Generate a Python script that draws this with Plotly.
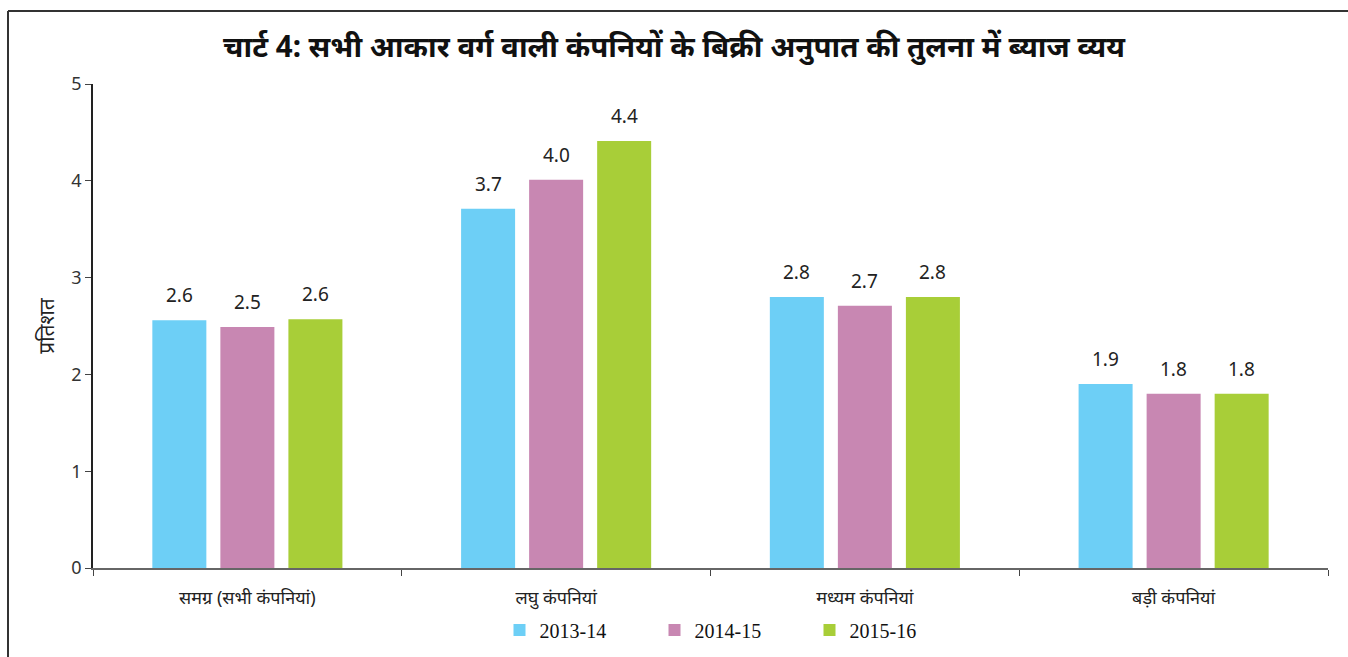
import plotly.graph_objects as go

categories = ["समग्र (सभी कंपनियां)", "लघु कंपनियां", "मध्यम कंपनियां", "बड़ी कंपनियां"]
series_names = ["2013-14", "2014-15", "2015-16"]
values_2013_14 = [2.56, 3.71, 2.80, 1.90]
values_2014_15 = [2.49, 4.01, 2.71, 1.80]
values_2015_16 = [2.57, 4.41, 2.80, 1.80]
colors = ["#6DCFF6", "#C887B2", "#A8CE38"]
y_ticks = [0, 1, 2, 3, 4, 5]

title_text = "चार्ट 4: सभी आकार वर्ग वाली कंपनियों के बिक्री अनुपात की तुलना में ब्याज व्यय"
y_title = "प्रतिशत"

W, H = 1348, 657
L, R, T, B = 93, 20, 84, 89
pw, ph = W - L - R, H - T - B
BARGAP, BARGROUPGAP = 0.339, 0.206
slot_px = pw / len(categories) * (1 - BARGAP) / len(series_names)

def px(x):
    return (x - L) / pw

def py(y):
    return (H - B - y) / ph

fig = go.Figure()
annotations = []
all_series = [values_2013_14, values_2014_15, values_2015_16]
for i, (name, vals, col) in enumerate(zip(series_names, all_series, colors)):
    fig.add_trace(go.Bar(
        x=categories, y=vals, name=name,
        marker=dict(color=col, line=dict(width=0)),
    ))
    for cat, v in zip(categories, vals):
        annotations.append(dict(
            x=cat, y=v, xref="x", yref="y", text=f"{v:.1f}", showarrow=False,
            xanchor="center", yanchor="bottom", xshift=(i - 1) * slot_px, yshift=10,
            font=dict(family="Noto Sans, sans-serif", size=19, color="#222"),
        ))

fig.update_layout(
    width=W, height=H,
    margin=dict(l=L, r=R, t=T, b=B, autoexpand=False),
    paper_bgcolor="white", plot_bgcolor="white",
    barmode="group", bargap=BARGAP, bargroupgap=BARGROUPGAP,
    title=dict(text="<b>" + title_text + "</b>", x=0.5, xanchor="center", y=1 - 47 / H, yanchor="middle",
               font=dict(family="Noto Sans, sans-serif", size=29.5, color="#111")),
    font=dict(family="Noto Sans, sans-serif", color="#222"),
    showlegend=True,
    legend=dict(orientation="h", x=px(732), xanchor="center", y=py(630), yanchor="middle",
                font=dict(family="Liberation Serif, serif", size=20, color="#111"),
                itemwidth=30, traceorder="normal", entrywidth=110),
    xaxis=dict(showline=True, linecolor="#666", linewidth=2, ticks="outside", tickson="boundaries",
               ticklen=6, tickcolor="#444", tickfont=dict(size=18, color="#222"), showgrid=False,
               ticklabelstandoff=12, automargin=False),
    yaxis=dict(range=[0, 5], tickvals=y_ticks, showline=True, linecolor="#222", linewidth=1.5,
               ticks="outside", ticklen=6, tickcolor="#444", showgrid=False, zeroline=False,
               tickfont=dict(size=18, color="#333"), automargin=False,
               title=dict(text=y_title, font=dict(size=21, color="#222"), standoff=11)),
    annotations=annotations,
    shapes=[
        dict(type="line", xref="paper", yref="paper", x0=px(8), x1=px(W + 5), y0=py(11), y1=py(11),
             line=dict(color="#333", width=2)),
        dict(type="line", xref="paper", yref="paper", x0=px(8), x1=px(8), y0=py(11), y1=py(H + 5),
             line=dict(color="#333", width=2)),
    ],
)

fig.write_html("out.html")
